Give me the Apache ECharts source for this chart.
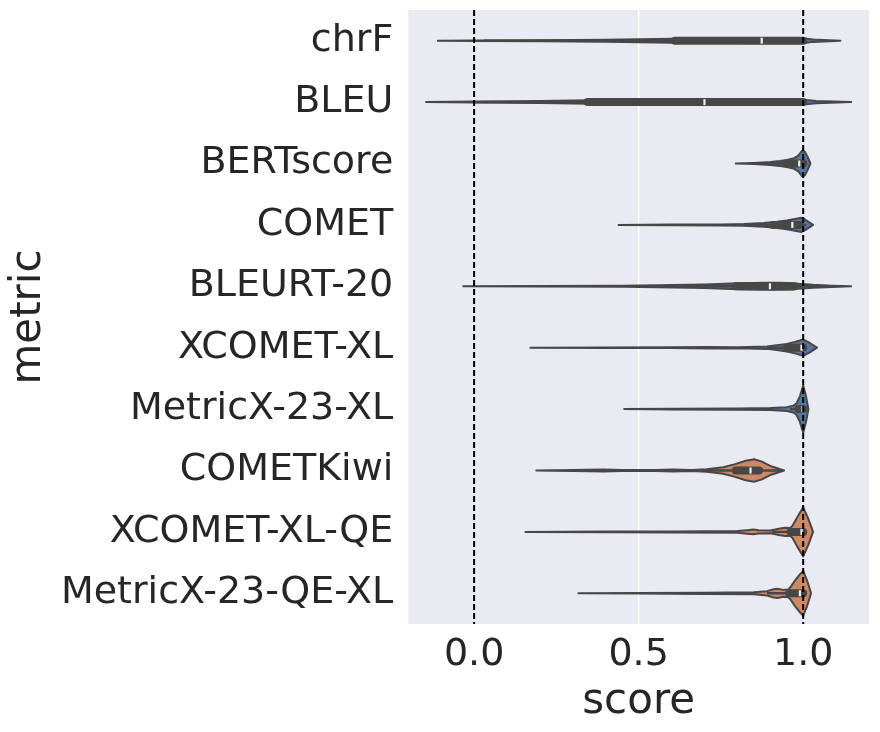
<!DOCTYPE html>
<html><head><meta charset="utf-8">
<script src="https://cdn.jsdelivr.net/npm/echarts@6/dist/echarts.min.js"></script>
<style>html,body{margin:0;padding:0;background:#fff}#c{width:880px;height:732px}</style>
</head><body><div id="c"></div>
<script>
// ---- data ----
const categories = ['chrF','BLEU','BERTscore','COMET','BLEURT-20','XCOMET-XL','MetricX-23-XL','COMETKiwi','XCOMET-XL-QE','MetricX-23-QE-XL'];
const metricKind = ['ref','ref','ref','ref','ref','ref','ref','qe','qe','qe'];
const tickValues = [0, 0.5, 1.0];
const refLineValues = [0, 1.0];
const gridLineValues = [0.5];

// violin profiles: [score, relative density]
const densChrF = [[-0.11,0],[0.0,0.3],[0.2,0.5],[0.4,1.0],[0.6,2.0],[0.8,2.4],[0.95,2.6],[1.0,2.6],[1.03,1.2],[1.113,0]];
const densBLEU = [[-0.146,0],[0.0,0.5],[0.2,1.0],[0.35,1.8],[0.6,2.2],[0.85,2.4],[1.0,2.4],[1.04,1.1],[1.146,0]];
const densBERTscore = [[0.795,0],[0.85,0.6],[0.9,1.5],[0.93,2.5],[0.95,3.5],[0.97,5],[0.985,8],[0.997,13],[1.005,12],[1.013,7],[1.022,0]];
const densCOMET = [[0.439,0],[0.6,0.3],[0.75,0.5],[0.82,0.9],[0.88,2.0],[0.92,3.2],[0.95,4.5],[0.975,6],[0.995,7.2],[1.01,4.5],[1.03,0]];
const densBLEURT = [[-0.033,0],[0.2,0.2],[0.45,0.5],[0.557,1.0],[0.7,1.8],[0.8,3.0],[0.88,3.6],[0.93,3.6],[0.97,3.2],[0.985,2.6],[1.03,1.5],[1.088,0.6],[1.146,0]];
const densXCOMET = [[0.171,0],[0.4,0.3],[0.6,0.4],[0.71,0.8],[0.8,0.5],[0.89,1.2],[0.92,2.4],[0.95,3.8],[0.975,5.8],[1.0,8.3],[1.02,4.8],[1.042,0]];
const densMetricX = [[0.456,0],[0.6,0.3],[0.8,0.6],[0.9,1.0],[0.95,2.0],[0.97,3.5],[0.98,6],[0.99,13],[1.0,24],[1.008,14],[1.016,0]];
const densCOMETKiwi = [[0.189,0],[0.3,0.4],[0.393,1.0],[0.45,0.4],[0.55,0.5],[0.606,1.0],[0.66,0.6],[0.707,1.2],[0.757,3.3],[0.793,6.5],[0.825,10],[0.851,11.4],[0.875,9],[0.889,6.5],[0.905,4],[0.919,2.5],[0.942,0]];
const densXCOMETQE = [[0.156,0],[0.4,0.4],[0.6,0.5],[0.8,0.8],[0.83,1.8],[0.848,2.5],[0.865,1.6],[0.9,1.4],[0.93,3.5],[0.945,4.2],[0.96,4.0],[0.967,6],[0.982,15],[1.0,25],[1.016,13],[1.03,0]];
const densMetricXQE = [[0.317,0],[0.5,0.3],[0.7,0.6],[0.85,1.0],[0.89,2.2],[0.91,4.2],[0.922,4.7],[0.94,3.5],[0.955,4],[0.963,7],[0.975,13],[0.988,18.5],[1.0,22.8],[1.012,13],[1.024,0]];
const densities = [densChrF, densBLEU, densBERTscore, densCOMET, densBLEURT, densXCOMET, densMetricX, densCOMETKiwi, densXCOMETQE, densMetricXQE];

// inner box statistics
const whiskerLow  = [0.03, 0.0, 0.875, 0.79, 0.557, 0.89, 0.96, 0.69, 0.905, 0.89];
const q1          = [0.61, 0.345, 0.949, 0.909, 0.795, 0.951, 0.985, 0.795, 0.962, 0.957];
const median      = [0.874, 0.700, 0.988, 0.967, 0.899, 0.995, 0.998, 0.840, 0.995, 0.990];
const q3          = [1.0, 1.0, 1.0, 0.989, 0.972, 1.0, 1.0, 0.866, 1.0, 1.0];
const whiskerHigh = [1.0, 1.0, 1.0, 1.01, 1.088, 1.0, 1.0, 0.93, 1.0, 1.0];

// ---- styles ----
const kindColor = { ref: '#5875a4', qe: '#cc8963' };
const lineColor = '#474747';
const textColor = '#262626';
const fontFamily = 'DejaVu Sans';
const globalMax = Math.max(...densities.map(d => Math.max(...d.map(p => p[1]))));

const chart = echarts.init(document.getElementById('c'), null, { renderer: 'canvas' });

const option = {
  backgroundColor: '#ffffff',
  animation: false,
  grid: { left: 407, top: 10, width: 462, height: 614, show: true, backgroundColor: '#eaeaf2', borderWidth: 0 },
  xAxis: {
    type: 'value', min: -0.2, max: 1.2,
    name: 'score', nameLocation: 'middle', nameGap: 57,
    nameTextStyle: { fontSize: 42, color: textColor, fontFamily },
    axisLine: { show: false }, axisTick: { show: false }, splitLine: { show: false },
    axisLabel: { customValues: tickValues, formatter: v => Number(v).toFixed(1), fontSize: 38, color: textColor, fontFamily, margin: 12 }
  },
  yAxis: {
    type: 'category', data: categories, inverse: true,
    name: 'metric', nameLocation: 'middle', nameGap: 345, nameRotate: 90,
    nameTextStyle: { fontSize: 42, color: textColor, fontFamily },
    axisLine: { show: false }, axisTick: { show: false }, splitLine: { show: false },
    axisLabel: { fontSize: 38, color: textColor, fontFamily, margin: 15 }
  },
  series: [
    {
      type: 'custom', name: 'grid', z: 1, silent: true,
      data: gridLineValues.map(v => [v, 0]),
      renderItem(params, api) {
        const cs = params.coordSys;
        const x = api.coord([api.value(0), 0])[0];
        return { type: 'line', shape: { x1: x, y1: cs.y, x2: x, y2: cs.y + cs.height }, style: { stroke: '#ffffff', lineWidth: 1.6 } };
      }
    },
    {
      type: 'custom', name: 'violins', z: 3, silent: true,
      data: categories.map((c, i) => [median[i], i]),
      renderItem(params, api) {
        const i = params.dataIndex;
        const band = api.size([0, 1])[1];
        const scale = band * 0.4 / globalMax;
        const yc = api.coord([0, i])[1];
        const top = [], bot = [];
        densities[i].forEach(([s, d]) => {
          const x = api.coord([s, i])[0];
          top.push([x, yc - d * scale]);
          bot.push([x, yc + d * scale]);
        });
        const pts = top.concat(bot.reverse());
        const X = v => api.coord([v, i])[0];
        const mx = X(median[i]);
        return {
          type: 'group',
          children: [
            { type: 'polygon', shape: { points: pts }, style: { fill: kindColor[metricKind[i]], stroke: lineColor, lineWidth: 2, lineJoin: 'round' } },
            { type: 'line', shape: { x1: X(whiskerLow[i]), y1: yc, x2: X(whiskerHigh[i]), y2: yc }, style: { stroke: lineColor, lineWidth: 2.4 } },
            { type: 'line', shape: { x1: X(q1[i]), y1: yc, x2: X(q3[i]), y2: yc }, style: { stroke: lineColor, lineWidth: 8, lineCap: 'round' } },
            { type: 'rect', shape: { x: mx - 1.1, y: yc - 3, width: 2.2, height: 6 }, style: { fill: '#f0f0f0' } }
          ]
        };
      }
    },
    {
      type: 'custom', name: 'reference', z: 10, silent: true,
      data: refLineValues.map(v => [v, 0]),
      renderItem(params, api) {
        const cs = params.coordSys;
        const x = api.coord([api.value(0), 0])[0];
        return { type: 'line', shape: { x1: x, y1: cs.y, x2: x, y2: cs.y + cs.height }, style: { stroke: '#000000', lineWidth: 2, lineDash: [6, 3] } };
      }
    }
  ]
};
chart.setOption(option);
</script>
</body></html>
